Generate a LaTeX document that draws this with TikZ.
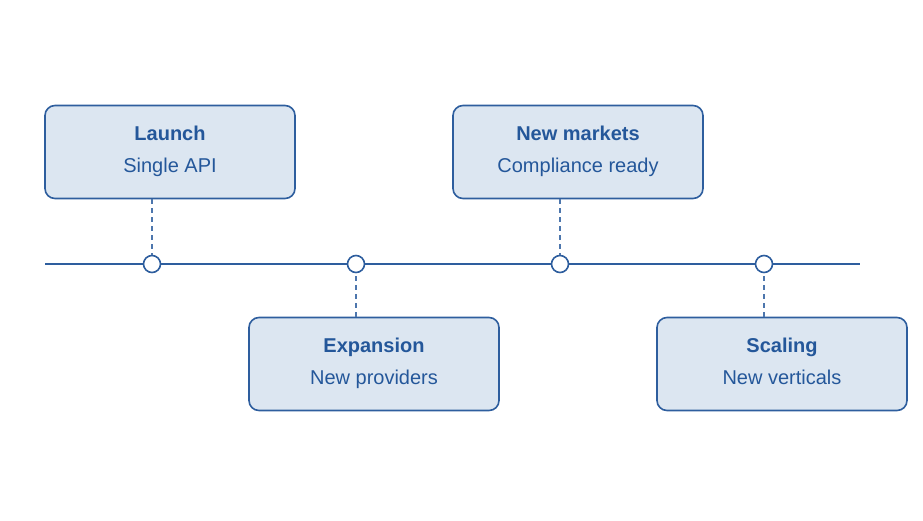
\documentclass[tikz,border=0pt]{standalone}
\usepackage{fontspec}
\setmainfont{Liberation Sans}
\usepackage{tikz}
\usetikzlibrary{positioning}

\definecolor{lineblue}{HTML}{2E5E9E}
\definecolor{textblue}{HTML}{24579A}
\definecolor{boxfill}{HTML}{DCE6F1}

\newcommand{\tailstrut}{\rule[-13.6pt]{0pt}{13.6pt}}

\begin{document}
\begin{tikzpicture}[x=1pt,y=-1pt]
			\tikzstyle{Milestone}	= [rectangle, rounded corners=10pt, draw=lineblue, line width=1.6pt, fill=boxfill, minimum width=250pt, minimum height=93pt, inner sep=0pt, align=center, text=textblue, font=\fontsize{20}{32}\selectfont]
			\tikzstyle{Dot}		= [circle, draw=lineblue, line width=1.6pt, fill=white, minimum size=17pt, inner sep=0pt]
			\tikzstyle{Axis}		= [line width=2pt, lineblue]
			\tikzstyle{Stem}		= [line width=1.3pt, lineblue!85, dash pattern=on 5pt off 4pt]

			\useasboundingbox (0,0) rectangle (923,520);

			\coordinate (t0) at (45,264);
			\coordinate (t1) at (860,264);
			\node (d1) at (152,264) [Dot] {};
			\node (d2) at (356,264) [Dot] {};
			\node (d3) at (560,264) [Dot] {};
			\node (d4) at (764,264) [Dot] {};

			\node (launch)    at (170,152) [Milestone] {\strut\textbf{Launch}\\Single API\tailstrut};
			\node (expansion) at (374,364) [Milestone] {\strut\textbf{Expansion}\\New providers\tailstrut};
			\node (markets)   at (578,152) [Milestone] {\strut\textbf{New markets}\\Compliance ready\tailstrut};
			\node (scaling)   at (782,364) [Milestone] {\strut\textbf{Scaling}\\New verticals\tailstrut};

			\draw (t0) -- (d1) -- (d2) -- (d3) -- (d4) -- (t1) [Axis];

			\draw (launch.south -| d1) -- (d1) [Stem];
			\draw (expansion.north -| d2) -- (d2) [Stem];
			\draw (markets.south -| d3) -- (d3) [Stem];
			\draw (scaling.north -| d4) -- (d4) [Stem];

		\end{tikzpicture}
\end{document}
